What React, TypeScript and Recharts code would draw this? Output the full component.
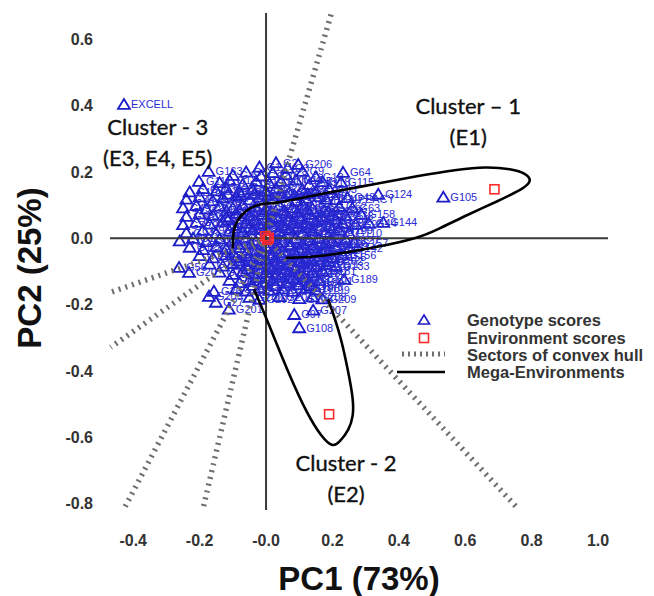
import React from 'react';
import {
  ComposedChart,
  Scatter,
  Line,
  XAxis,
  YAxis,
  ReferenceLine,
  ReferenceDot,
  LabelList,
  Legend,
} from 'recharts';

const BLUE = '#1c1cc8';
const LABEL_BLUE = '#2a2ad2';
const RED = '#ff2a2a';
const HULL_GREY = '#6e6e6e';
const AXIS_FONT = "'Liberation Sans', Arial, sans-serif";
const NOTE_FONT = "Lato, 'Open Sans', sans-serif";

const X_TICKS = [-0.4, -0.2, 0, 0.2, 0.4, 0.6, 0.8, 1.0];
const Y_TICKS = [0.6, 0.4, 0.2, 0, -0.2, -0.4, -0.6, -0.8];

// genotypes that stand out of the cloud, label readable
const namedGenotypes: [string, number, number][] = [
  ['EXCELL', -0.428, 0.404],
  ['G163', -0.173, 0.202],
  ['G111', -0.202, 0.172],
  ['G206', 0.097, 0.223],
  ['G64', 0.232, 0.199],
  ['G115', 0.226, 0.169],
  ['G124', 0.338, 0.133],
  ['G105', 0.534, 0.124],
  ['G159', 0.187, 0.081],
  ['G158', 0.287, 0.072],
  ['G144', 0.353, 0.048],
  ['G44', 0.31, 0.045],
  ['G157', 0.266, -0.013],
  ['G133', 0.21, -0.085],
  ['G189', 0.235, -0.124],
  ['G207', 0.142, -0.217],
  ['G97', 0.085, -0.23],
  ['G108', 0.1, -0.27],
  ['G201', -0.112, -0.214],
  ['G20', -0.232, -0.103],
  ['G56', -0.262, -0.088],
  ['G26', -0.157, -0.16],
  ['G203', -0.172, -0.175],
  ['G27', -0.151, -0.193],
  ['PBA PEACY', 0.181, 0.118],
  ['HUNYAK', 0.045, 0.172],
];

// the dense cloud around the origin (labels overlap, unreadable)
const cloudXY: [number, number][] = [
  [-0.02, 0.215], [0.03, 0.228], [0.065, 0.212],
  [-0.1, 0.19], [-0.06, 0.2], [-0.015, 0.188], [0.02, 0.198], [0.06, 0.192], [0.11, 0.202], [0.15, 0.186],
  [-0.14, 0.168], [-0.11, 0.175], [-0.07, 0.163], [-0.03, 0.172], [0.01, 0.166], [0.09, 0.176], [0.13, 0.162], [0.17, 0.171],
  [-0.23, 0.14], [-0.19, 0.15], [-0.15, 0.143], [-0.12, 0.152], [-0.08, 0.139], [-0.04, 0.148], [0.0, 0.142], [0.03, 0.151],
  [0.07, 0.138], [0.11, 0.147], [0.15, 0.141], [0.19, 0.149],
  [-0.24, 0.118], [-0.2, 0.125], [-0.16, 0.113], [-0.13, 0.122], [-0.09, 0.127], [-0.05, 0.116], [-0.02, 0.124], [0.02, 0.119],
  [0.05, 0.128], [0.09, 0.114], [0.12, 0.121], [0.16, 0.126], [0.21, 0.117], [0.245, 0.123],
  [-0.25, 0.092], [-0.21, 0.099], [-0.18, 0.088], [-0.14, 0.097], [-0.1, 0.091], [-0.07, 0.1], [-0.03, 0.094], [0.0, 0.087],
  [0.04, 0.098], [0.08, 0.092], [0.11, 0.101], [0.14, 0.089], [0.22, 0.096], [0.26, 0.091],
  [-0.24, 0.066], [-0.2, 0.074], [-0.16, 0.069], [-0.12, 0.063], [-0.09, 0.075], [-0.05, 0.068], [-0.01, 0.072], [0.03, 0.064],
  [0.06, 0.076], [0.1, 0.067], [0.13, 0.073], [0.17, 0.065], [0.2, 0.071], [0.24, 0.068],
  [-0.25, 0.041], [-0.21, 0.048], [-0.17, 0.043], [-0.13, 0.05], [-0.1, 0.039], [-0.06, 0.046], [-0.02, 0.042], [0.01, 0.049],
  [0.05, 0.04], [0.08, 0.047], [0.12, 0.044], [0.15, 0.051], [0.19, 0.038], [0.23, 0.046], [0.27, 0.042],
  [-0.24, 0.017], [-0.19, 0.024], [-0.15, 0.015], [-0.11, 0.022], [-0.07, 0.019], [-0.04, 0.026], [0.0, 0.014], [0.04, 0.021],
  [0.07, 0.025], [0.11, 0.016], [0.14, 0.023], [0.18, 0.018], [0.22, 0.024], [0.25, 0.015],
  [-0.26, -0.008], [-0.22, 0.0], [-0.18, -0.01], [-0.14, -0.002], [-0.1, -0.007], [-0.06, 0.001], [-0.03, -0.009], [0.02, -0.003],
  [0.05, -0.011], [0.09, 0.0], [0.13, -0.006], [0.16, -0.001], [0.2, -0.009], [0.24, -0.004],
  [-0.23, -0.027], [-0.19, -0.034], [-0.15, -0.025], [-0.12, -0.033], [-0.08, -0.028], [-0.04, -0.036], [0.0, -0.026], [0.03, -0.032],
  [0.07, -0.024], [0.1, -0.035], [0.14, -0.029], [0.18, -0.033], [0.21, -0.025], [0.25, -0.031],
  [-0.2, -0.052], [-0.16, -0.059], [-0.12, -0.05], [-0.09, -0.058], [-0.05, -0.053], [-0.02, -0.06], [0.02, -0.051], [0.05, -0.057],
  [0.09, -0.049], [0.12, -0.061], [0.16, -0.054], [0.2, -0.058], [0.23, -0.05],
  [-0.17, -0.078], [-0.13, -0.084], [-0.1, -0.076], [-0.06, -0.083], [-0.03, -0.077], [0.01, -0.086], [0.04, -0.079], [0.08, -0.082],
  [0.11, -0.075], [0.15, -0.085], [0.18, -0.079],
  [-0.14, -0.102], [-0.1, -0.109], [-0.07, -0.1], [-0.04, -0.107], [0.0, -0.103], [0.03, -0.11], [0.07, -0.101], [0.1, -0.108],
  [0.14, -0.104], [0.17, -0.099],
  [-0.11, -0.127], [-0.08, -0.134], [-0.05, -0.126], [-0.01, -0.133], [0.02, -0.128], [0.06, -0.135], [0.09, -0.125], [0.13, -0.131],
  [0.16, -0.128],
  [-0.09, -0.152], [-0.06, -0.159], [-0.02, -0.15], [0.01, -0.157], [0.05, -0.153], [0.08, -0.16], [0.12, -0.151], [0.15, -0.156],
  [-0.05, -0.178], [-0.02, -0.184], [0.04, -0.176], [0.1, -0.182], [0.14, -0.177], [0.17, -0.183],
  // the core of the cloud, where it is near solid
  [-0.115, 0.133], [-0.075, 0.131], [-0.035, 0.133], [0.005, 0.13], [0.045, 0.135], [0.085, 0.13], [0.125, 0.134],
  [-0.12, 0.082], [-0.08, 0.085], [-0.04, 0.08], [0.015, 0.081], [0.055, 0.084], [0.095, 0.079], [0.125, 0.086], [0.175, 0.083],
  [-0.115, 0.056], [-0.075, 0.058], [-0.035, 0.055], [0.02, 0.058], [0.065, 0.054], [0.105, 0.059], [0.16, 0.056], [0.21, 0.058],
  [-0.09, 0.031], [-0.05, 0.033], [-0.015, 0.03], [0.025, 0.034], [0.06, 0.03], [0.095, 0.033], [0.13, 0.031], [0.2, 0.03],
  [-0.085, -0.017], [-0.045, -0.018], [0.035, -0.015], [0.075, -0.019], [0.11, -0.016], [0.145, -0.02], [0.18, -0.015],
  [-0.1, -0.043], [-0.06, -0.045], [-0.015, -0.041], [0.04, -0.044], [0.085, -0.04], [0.125, -0.046], [0.17, -0.042],
  [-0.08, -0.068], [-0.04, -0.07], [0.0, -0.066], [0.035, -0.069], [0.07, -0.065], [0.1, -0.07], [0.14, -0.067], [0.19, -0.07],
  [-0.055, -0.092], [-0.015, -0.095], [0.02, -0.093], [0.055, -0.094], [0.09, -0.091], [0.125, -0.096],
  [-0.03, -0.118], [0.01, -0.12], [0.045, -0.117], [0.08, -0.121], [0.115, -0.118],
  [-0.04, -0.142], [0.03, -0.143], [0.1, -0.14], [0.135, -0.144],
];

const envNames = ['E1', 'E2', 'E3', 'E4', 'E5'];
const envPC1 = [0.688, 0.19, 0.004, -0.002, 0.008];
const envPC2 = [0.148, -0.531, -0.004, 0.006, 0.001];

// sector rays of the convex hull, drawn from the origin
const hullRayEnds: [number, number][] = [
  [0.196, 0.676],
  [0.76, -0.817],
  [-0.19, -0.817],
  [-0.428, -0.817],
  [-0.468, -0.163],
  [-0.468, -0.329],
];

// mega-environment outlines (the parts lost in the cloud left out)
const megaEnv1: [number, number][] = [
  [0.06, -0.059], [0.166, -0.056], [0.33, -0.028], [0.458, 0.0], [0.52, 0.028], [0.6, 0.068], [0.7, 0.113],
  [0.78, 0.152], [0.8, 0.174], [0.785, 0.195], [0.74, 0.21], [0.66, 0.216], [0.58, 0.208], [0.46, 0.189],
  [0.33, 0.164], [0.166, 0.134], [0.1, 0.12], [0.03, 0.106], [0.0, 0.106], [-0.03, 0.1], [-0.06, 0.085],
  [-0.088, 0.055], [-0.1, 0.02], [-0.1, -0.03],
];
const megaEnv2: [number, number][] = [
  [-0.036, -0.154], [0.006, -0.253], [0.066, -0.404], [0.127, -0.537], [0.166, -0.597],
  [0.2, -0.632], [0.222, -0.615], [0.25, -0.578], [0.263, -0.537], [0.263, -0.486], [0.248, -0.404],
  [0.227, -0.305], [0.205, -0.235], [0.187, -0.184],
];

const clusterNotes: { x: number; y: number; lines: string[] }[] = [
  { x: 0.609, y: 0.355, lines: ['Cluster \u2013 1', '(E1)'] },
  { x: -0.326, y: 0.293, lines: ['Cluster - 3', '(E3, E4, E5)'] },
  { x: 0.241, y: -0.722, lines: ['Cluster - 2', '(E2)'] },
];

const namedIds = new Set(namedGenotypes.map((g) => g[0]));
let nextId = 1;
const cloud = cloudXY.map(([x, y]) => {
  while (namedIds.has(`G${nextId}`)) nextId++;
  const name = `G${nextId}`;
  nextId++;
  return { name, x, y };
});
const genotypeData = [...cloud, ...namedGenotypes.map(([name, x, y]) => ({ name, x, y }))];
const envData = envNames.map((name, i) => ({ name, x: envPC1[i], y: envPC2[i] }));
const toPts = (arr: [number, number][]) => arr.map(([x, y]) => ({ x, y }));

const Triangle = (p: any) => (
  <path
    d={`M${p.cx},${p.cy - 5.5} L${p.cx + 6},${p.cy + 4.5} L${p.cx - 6},${p.cy + 4.5} Z`}
    fill="none"
    stroke={BLUE}
    strokeWidth={1.8}
  />
);

const Square = (p: any) => (
  <rect x={p.cx - 4.5} y={p.cy - 4.5} width={9} height={9} fill="none" stroke={RED} strokeWidth={1.6} />
);

const tickStyle = { fontSize: 16, fontWeight: 700, fill: '#333', fontFamily: AXIS_FONT };

function NoteLabel({ viewBox, lines }: any) {
  const cx = viewBox.x + (viewBox.width || 0) / 2;
  const cy = viewBox.y + (viewBox.height || 0) / 2;
  return (
    <text
      x={cx}
      y={cy - 15}
      textAnchor="middle"
      fontFamily={NOTE_FONT}
      fontSize={22}
      fill="#111"
      stroke="#111"
      strokeWidth={0.35}
    >
      {lines.map((l: string, i: number) => (
        <tspan key={i} x={cx} dy={i === 0 ? 0 : 31} dominantBaseline="central">
          {l}
        </tspan>
      ))}
    </text>
  );
}

function LegendBox() {
  const txt = { fontSize: 16.5, fontWeight: 700, fill: '#333', fontFamily: AXIS_FONT };
  return (
    <svg width={262} height={76}>
      <path d="M32,7 L37.5,16 L26.5,16 Z" fill="none" stroke={BLUE} strokeWidth={1.6} />
      <rect x={27.5} y={25.5} width={9} height={9} fill="none" stroke={RED} strokeWidth={1.6} />
      <line x1={10} x2={53} y1={46} y2={46} stroke={HULL_GREY} strokeWidth={5} strokeDasharray="2 4" />
      <line x1={5} x2={53} y1={64} y2={64} stroke="#000" strokeWidth={2.6} />
      <text x={75} y={12} dy="0.35em" {...txt}>Genotype scores</text>
      <text x={75} y={30} dy="0.35em" {...txt}>Environment scores</text>
      <text x={75} y={47} dy="0.35em" {...txt}>Sectors of convex hull</text>
      <text x={75} y={64} dy="0.35em" {...txt}>Mega-Environments</text>
    </svg>
  );
}

export default function App() {
  return (
    <div style={{ position: 'absolute', left: 0, top: 0, width: 654, height: 596, background: '#fff' }}>
      <ComposedChart width={654} height={596} margin={{ top: 13, right: 46, bottom: 0, left: 0 }}>
        <XAxis
          type="number"
          dataKey="x"
          domain={[-0.47, 1.03]}
          ticks={X_TICKS}
          allowDataOverflow
          axisLine={false}
          tickLine={false}
          tickMargin={19}
          height={86}
          tick={tickStyle}
          tickFormatter={(v: number) => (v === 0 ? '-0.0' : v.toFixed(1))}
          label={{
            content: ({ viewBox }: any) => (
              <text
                x={viewBox.x + viewBox.width / 2}
                y={viewBox.y + 80}
                textAnchor="middle"
                fontFamily={AXIS_FONT}
                fontWeight={700}
                fontSize={33}
                fill="#111"
              >
                PC1 (73%)
              </text>
            ),
          }}
        />
        <YAxis
          type="number"
          dataKey="y"
          domain={[-0.82, 0.68]}
          ticks={Y_TICKS}
          allowDataOverflow
          axisLine={false}
          tickLine={false}
          tickMargin={11}
          width={110}
          tick={tickStyle}
          tickFormatter={(v: number) => v.toFixed(1)}
          label={{
            content: ({ viewBox }: any) => (
              <text
                x={29}
                y={viewBox.y + 255}
                dy="0.35em"
                transform={`rotate(-90, 29, ${viewBox.y + 255})`}
                textAnchor="middle"
                fontFamily={AXIS_FONT}
                fontWeight={700}
                fontSize={33}
                fill="#111"
              >
                PC2 (25%)
              </text>
            ),
          }}
        />
        <Scatter data={genotypeData} shape={Triangle} isAnimationActive={false} zIndex={100}>
          <LabelList
            dataKey="name"
            position="right"
            offset={2.5}
            fill={LABEL_BLUE}
            fontSize={11}
            fontFamily={AXIS_FONT}
            zIndex={150}
          />
        </Scatter>
        {hullRayEnds.map(([x, y], i) => (
          <ReferenceLine
            key={`ray${i}`}
            segment={[{ x: 0, y: 0 }, { x, y }]}
            stroke={HULL_GREY}
            strokeWidth={5.5}
            strokeDasharray="2 5"
            ifOverflow="visible"
            zIndex={500}
          />
        ))}
        <ReferenceLine x={0} stroke="#3a3a3a" strokeWidth={2} zIndex={550} />
        <ReferenceLine y={0} stroke="#3a3a3a" strokeWidth={2} zIndex={550} />
        <Line
          data={toPts(megaEnv1)}
          dataKey="y"
          type="basis"
          stroke="#000"
          strokeWidth={2.6}
          dot={false}
          activeDot={false}
          isAnimationActive={false}
          zIndex={600}
        />
        <Line
          data={toPts(megaEnv2)}
          dataKey="y"
          type="basis"
          stroke="#000"
          strokeWidth={2.6}
          dot={false}
          activeDot={false}
          isAnimationActive={false}
          zIndex={600}
        />
        <Scatter data={envData} shape={Square} isAnimationActive={false} zIndex={700} />
        {clusterNotes.map((n, i) => (
          <ReferenceDot
            key={`note${i}`}
            x={n.x}
            y={n.y}
            r={0}
            fill="none"
            stroke="none"
            ifOverflow="visible"
            label={{ content: (props: any) => <NoteLabel {...props} lines={n.lines} /> }}
          />
        ))}
        <Legend
          layout="horizontal"
          verticalAlign="middle"
          align="center"
          wrapperStyle={{ position: 'absolute', left: 392, top: 308, width: 262, height: 76 }}
          content={() => <LegendBox />}
        />
      </ComposedChart>
    </div>
  );
}
